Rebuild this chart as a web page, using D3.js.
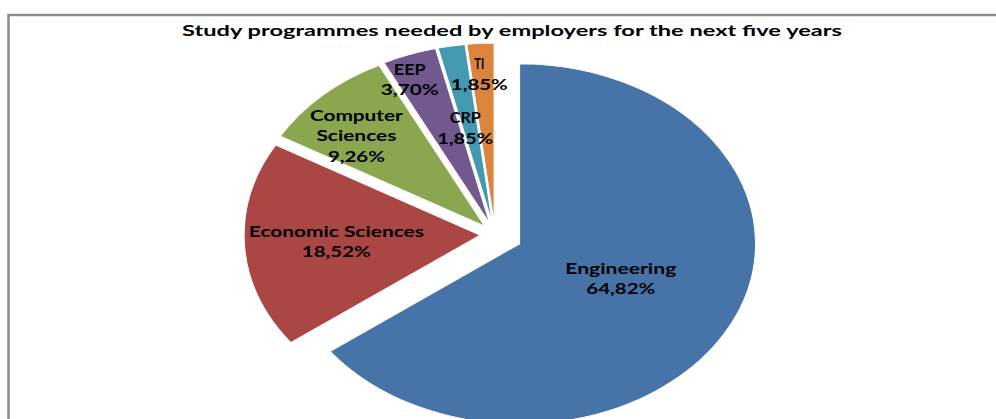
<!DOCTYPE html>
<html><head><meta charset="utf-8">
<script src="https://cdn.jsdelivr.net/npm/d3@7"></script>
<style>html,body{margin:0;padding:0;background:#fff;overflow:hidden}</style>
</head><body>
<script>
// ---- data ----
const categories = ["Engineering", "Economic Sciences", "Computer Sciences", "EEP", "CRP", "TI"];
const values = [64.82, 18.52, 9.26, 3.70, 1.85, 1.85];
const valueLabels = ["64,82%", "18,52%", "9,26%", "3,70%", "1,85%", "1,85%"];
const labelLines = [["Engineering"], ["Economic Sciences"], ["Computer", "Sciences"], ["EEP"], ["CRP"], ["TI"]];
const colors = ["#4673A8", "#AA4644", "#8AA64E", "#71598F", "#4299B0", "#DB843D"];
const titleText = "Study programmes needed by employers for the next five years";

// ---- layout ----
const W = 996, H = 419;
const cx = 495, cy = 234.5, R = 180, stretch = 1.311;
const explode = [21, 11.4, 11.4, 11.4, 11.4, 11.4];
const labelR = [0.47, 0.61, 0.74, 0.87, 0.54, 0.83];
const labelDA = [-2.5, 0, -4, -3, -2.3, -1];   // degrees
const lineWidths = [[111, 69], [175, 69], [93, 80, 57], [32, 58], [31, 56], [10, 57]];

const svg = d3.select("body").append("svg").attr("width", W).attr("height", H);
svg.append("rect").attr("width", W).attr("height", H).attr("fill", "#fff");
svg.append("rect").attr("x", 8.5).attr("y", 15).attr("width", 1100).attr("height", 600)
  .attr("fill", "none").attr("stroke", "#8a8a8a").attr("stroke-width", 2.5);

svg.append("text").attr("x", 512).attr("y", 36).attr("text-anchor", "middle")
  .attr("font-family", "Lato, 'DejaVu Sans', sans-serif").attr("font-weight", "bold")
  .attr("font-size", 16).attr("fill", "#000")
  .attr("textLength", 660).attr("lengthAdjust", "spacingAndGlyphs").text(titleText);

const pie = d3.pie().sort(null).value(d => d);
const arcs = pie(values);
const arc = d3.arc().innerRadius(0).outerRadius(R);

const g = svg.append("g").attr("transform", `translate(${cx},${cy}) scale(${stretch},1)`);
arcs.forEach((a, i) => {
  const mid = (a.startAngle + a.endAngle) / 2;
  const ox = Math.sin(mid) * explode[i], oy = -Math.cos(mid) * explode[i];
  g.append("path").attr("d", arc(a)).attr("transform", `translate(${ox},${oy})`)
    .attr("fill", colors[i]).attr("stroke", "#fff").attr("stroke-width", 0.8);
});

const fs = 15, lh = 20.5;
arcs.forEach((a, i) => {
  const mid = (a.startAngle + a.endAngle) / 2;
  const vx = Math.sin(mid) * explode[i], vy = -Math.cos(mid) * explode[i];
  const la = mid + labelDA[i] * Math.PI / 180;
  const px = cx + (vx + Math.sin(la) * labelR[i] * R) * stretch;
  const py = cy + vy - Math.cos(la) * labelR[i] * R;
  const lines = labelLines[i].concat([valueLabels[i]]);
  const n = lines.length;
  lines.forEach((t, k) => {
    const y = py + (k - (n - 1) / 2) * lh + fs * 0.36;
    svg.append("text").attr("x", px).attr("y", y).attr("text-anchor", "middle")
      .attr("font-family", "Lato, 'DejaVu Sans', sans-serif").attr("font-weight", "bold")
      .attr("font-size", fs).attr("fill", "#000")
      .attr("textLength", lineWidths[i][k]).attr("lengthAdjust", "spacingAndGlyphs").text(t);
  });
});
</script>
</body></html>
